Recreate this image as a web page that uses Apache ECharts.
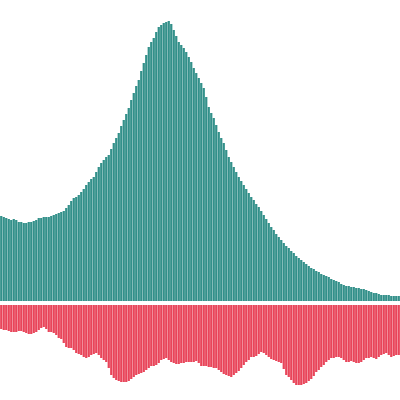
<!DOCTYPE html>
<html>
<head>
<meta charset="utf-8">
<script src="https://cdn.jsdelivr.net/npm/echarts@6/dist/echarts.min.js"></script>
<style>html,body{margin:0;padding:0;background:#fff}#c{width:400px;height:400px}</style>
</head>
<body>
<div id="c"></div>
<script>
var upValues = [
  85,84,83,82, 81,82,81,79, 79,78,78,79, 79,80,81,83, 83,84,84,84,
  85,86,87,88, 89,90,93,96, 100,103,104,106, 109,112,116,119, 122,124,129,134,
  138,141,144,146, 152,158,163,168, 175,181,187,193, 201,208,215,221, 230,238,246,254,
  259,263,269,274, 276,278,279,280, 277,271,265,259, 256,253,249,244, 239,233,228,223,
  218,213,204,194, 188,183,176,169, 163,158,151,144, 139,134,129,124, 120,116,112,108,
  104,101,97,94, 90,86,82,78, 74,71,67,64, 61,58,55,53, 50,48,45,43,
  41,39,37,35, 33,32,30,29, 27,26,25,24, 22,21,20,19, 17,16,15,15,
  14,14,13,13, 12,12,11,10, 9,8,8,7, 6,6,6,6, 5,5,5,5
];
var downValues = [
  24,25,25,26, 27,27,27,26, 26,27,28,29, 29,28,27,25, 23,22,24,27,
  27,28,30,33, 34,38,42,43, 43,45,48,49, 50,52,53,52, 50,49,48,50,
  53,55,57,63, 70,73,75,76, 77,77,77,76, 74,72,70,69, 68,67,65,63,
  61,61,60,58, 55,54,53,55, 57,58,59,59, 58,58,57,57, 57,57,56,58,
  61,61,61,62, 62,63,63,65, 67,69,70,71, 72,70,68,66, 63,60,57,55,
  52,52,51,49, 47,48,50,52, 54,55,56,57, 58,64,70,72, 75,78,80,80,
  80,79,78,76, 74,71,67,65, 62,60,57,55, 53,53,52,52, 53,55,57,57,
  56,57,58,58, 57,55,53,53, 52,53,54,52, 50,49,48,50, 52,51,50,50
];
var categories = upValues.map(function (_, i) { return String(i + 1); });

var chart = echarts.init(document.getElementById('c'), null, {renderer: 'canvas'});
chart.setOption({
  animation: false,
  grid: [
    {left: 0, right: 0, top: 0, height: 301},
    {left: 0, right: 0, top: 305, height: 95}
  ],
  xAxis: [
    {type: 'category', gridIndex: 0, data: categories, show: false},
    {type: 'category', gridIndex: 1, data: categories, show: false}
  ],
  yAxis: [
    {type: 'value', gridIndex: 0, min: 0, max: 301, show: false},
    {type: 'value', gridIndex: 1, min: 0, max: 95, inverse: true, show: false}
  ],
  series: [
    {type: 'bar', xAxisIndex: 0, yAxisIndex: 0, data: upValues, barCategoryGap: '10%', itemStyle: {color: '#33908a'}},
    {type: 'bar', xAxisIndex: 1, yAxisIndex: 1, data: downValues, barCategoryGap: '10%', itemStyle: {color: '#e8455a'}}
  ]
});
</script>
</body>
</html>
